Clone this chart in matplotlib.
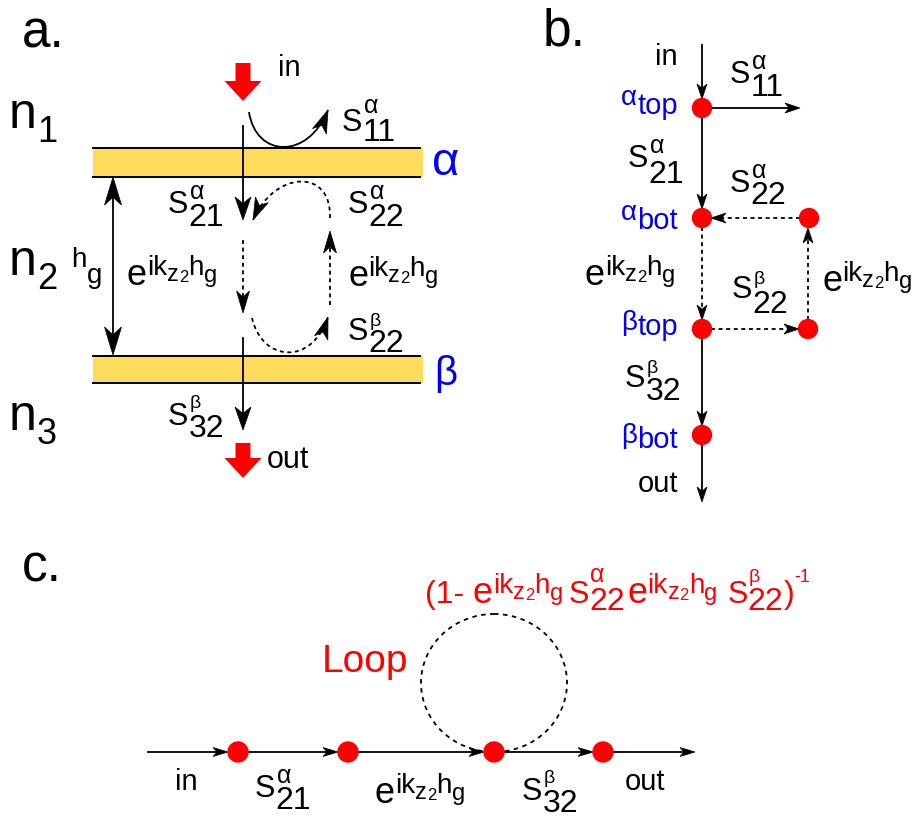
import matplotlib
matplotlib.use("Agg")
import matplotlib.pyplot as plt
import numpy as np
from matplotlib.patches import Polygon, Circle, Rectangle, Ellipse, PathPatch
from matplotlib.path import Path

plt.rcParams['font.family'] = ['Liberation Sans', 'DejaVu Sans']

# ---------------- data ----------------
panel_letters = ['a.', 'b.', 'c.']
panel_letter_xy = [(22, 47), (543, 45), (22, 582)]

media = ['1', '2', '3']
media_y = [128, 275, 430]

# panel b nodes (x, y) and their blue names
b_nodes = [(702, 108), (702, 218), (809, 218), (702, 329), (808, 329), (702, 435)]
b_names = [('α', 'top'), ('α', 'bot'), ('β', 'top'), ('β', 'bot')]
b_name_y = [105, 220, 330, 443]

# panel c chain of nodes
c_nodes_x = [238, 348, 494, 603]
c_line_y = 752

# ---------------- figure ----------------
fig = plt.figure(figsize=(9.17, 8.19), dpi=100)
ax = fig.add_axes([0, 0, 1, 1])
ax.set_xlim(0, 917)
ax.set_ylim(819, 0)
ax.axis('off')


def chain(parts, x, y, color='black'):
    # parts: (text, size, dy, attach index, dx in points)
    arts = []
    for i, p in enumerate(parts):
        s, size, dy = p[0], p[1], p[2]
        att = p[3] if len(p) > 3 and p[3] is not None else i - 1
        dx = p[4] if len(p) > 4 else 0
        if i == 0:
            t = ax.text(x, y + dy, s, fontsize=size, color=color, ha='left', va='baseline')
        else:
            t = ax.annotate(s, xy=(1, y + dy), xycoords=(arts[att], 'data'),
                            xytext=(dx, 0), textcoords='offset points',
                            fontsize=size, color=color, ha='left', va='baseline')
        arts.append(t)
    return arts


def slabel(x, y, sup, sub, color='black', supdy=-14, subdy=13, supsize=None):
    if supsize is None:
        supsize = 18 if sup == 'α' else 14
    chain([('S', 22, 0), (sup, supsize, supdy, 0, 1), (sub, 23, subdy, 0, 0)], x, y, color)


def exp_parts():
    return [('e', 26, 0), ('ik', 20, -10), ('z', 17, -4), ('2', 12, -3), ('h', 20, -10), ('g', 17, -3)]


def elabel(x, y, color='black'):
    chain(exp_parts(), x, y, color)


def head(tip, d, L, W, color='black'):
    d = np.array(d, float)
    d = d / np.linalg.norm(d)
    n = np.array([-d[1], d[0]])
    tip = np.array(tip, float)
    base = tip - L * d
    pts = [tip, base + W / 2 * n, tip - 0.72 * L * d, base - W / 2 * n]
    ax.add_patch(Polygon(pts, closed=True, facecolor=color, edgecolor=color, lw=0.5, zorder=5))


def arrow(p0, p1, L, W, ls='-', lw=1.3, both=False):
    p0 = np.array(p0, float)
    p1 = np.array(p1, float)
    d = p1 - p0
    u = d / np.linalg.norm(d)
    a = p0 + (0.5 * L * u if both else 0)
    b = p1 - 0.5 * L * u
    ax.plot([a[0], b[0]], [a[1], b[1]], color='black', lw=lw, ls=ls, zorder=4)
    head(p1, d, L, W)
    if both:
        head(p0, -d, L, W)


def curve(pts, L, W, ls='-', lw=1.3):
    path = Path(pts, [Path.MOVETO, Path.CURVE4, Path.CURVE4, Path.CURVE4])
    ax.add_patch(PathPatch(path, fill=False, ls=ls, lw=lw, edgecolor='black', zorder=4))
    head(pts[3], np.array(pts[3]) - np.array(pts[2]), L, W)


def block_arrow(x, y0, y1, sw=15, hw=37, hl=20):
    pts = [(x - sw / 2, y0), (x + sw / 2, y0), (x + sw / 2, y1 - hl), (x + hw / 2, y1 - hl),
           (x, y1), (x - hw / 2, y1 - hl), (x - sw / 2, y1 - hl)]
    ax.add_patch(Polygon(pts, closed=True, color='#FF0000', lw=0, zorder=5))


dots = (0, (2.2, 2))

# ---------------- panel letters ----------------
for s, (x, y) in zip(panel_letters, panel_letter_xy):
    ax.text(x, y, s, fontsize=37, ha='left', va='baseline')

# ---------------- panel a ----------------
for y0, y1 in [(148, 177), (356, 383)]:
    ax.add_patch(Rectangle((93, y0), 330, y1 - y0, facecolor='#FFDB5C', edgecolor='none', zorder=1))
    ax.plot([93, 420], [y0, y0], color='black', lw=1.4, zorder=2)
    ax.plot([93, 420], [y1, y1], color='black', lw=1.4, zorder=2)
ax.text(432, 175, 'α', fontsize=34, color='#0000FF', ha='left', va='baseline')
ax.text(434, 385, 'β', fontsize=29, color='#0000FF', ha='left', va='baseline')

for m, y in zip(media, media_y):
    chain([('n', 36, 0), (m, 26, 14, 0, 0)], 9, y)

# h_g gap
arrow((113, 177), (113, 355), 28, 17, both=True)
chain([('h', 20, 0), ('g', 20, 16, 0, 0)], 71, 267)

block_arrow(243, 63, 101)
ax.text(278, 76, 'in', fontsize=21, ha='left', va='baseline')
block_arrow(243, 443, 478)
ax.text(267, 468, 'out', fontsize=22, ha='left', va='baseline')

arrow((243, 126), (243, 220), 23, 16)
arrow((243, 338), (243, 430), 23, 16)
arrow((243, 240), (243, 313), 22, 13, ls=dots)
arrow((330, 305), (330, 231), 22, 13, ls=dots)
curve([(249, 112), (256, 158), (308, 160), (328, 110)], 23, 15)
curve([(330, 218), (332, 168), (275, 170), (253, 220)], 22, 14, ls=dots)
curve([(252, 318), (262, 362), (312, 366), (328, 317)], 22, 14, ls=dots)

slabel(342, 131, 'α', '11', supdy=-18, subdy=10)
slabel(168, 213, 'α', '21')
slabel(348, 213, 'α', '22')
slabel(348, 340, 'β', '22', supdy=-14, subdy=12)
slabel(168, 425, 'β', '32', supdy=-17, subdy=12)
elabel(127, 285)
elabel(348, 286)

# ---------------- panel b ----------------
bx = b_nodes[0][0]
ax.text(678, 65, 'in', fontsize=21, ha='right', va='baseline')
ax.text(678, 492, 'out', fontsize=21, ha='right', va='baseline')
arrow((bx, 45), (bx, 99), 15, 10)
arrow((711, 108), (800, 108), 15, 10)
arrow((bx, 117), (bx, 209), 15, 10)
arrow((800, 218), (711, 218), 15, 10, ls=dots)
arrow((bx, 227), (bx, 320), 15, 10, ls=dots)
arrow((711, 329), (799, 329), 15, 10, ls=dots)
arrow((808, 320), (808, 228), 15, 10, ls=dots)
arrow((bx, 338), (bx, 426), 15, 10)
arrow((bx, 444), (bx, 502), 15, 10)
for (x, y) in b_nodes:
    ax.add_patch(Circle((x, y), 9.5, color='#FF0000', zorder=6))
for (g, s), y in zip(b_names, b_name_y):
    chain([(g, 20, 0), (s, 21, 9 if g == 'α' else 5, None, 0)], 621, y, color='#0000FF')

slabel(730, 83, 'α', '11')
slabel(628, 167, 'α', '21', subdy=16)
slabel(730, 192, 'α', '22', subdy=12)
slabel(732, 298, 'β', '22', subdy=15)
slabel(625, 387, 'β', '32')
elabel(585, 285)
elabel(822, 291)

# ---------------- panel c ----------------
xs = [148] + c_nodes_x + [695]
for i in range(len(xs) - 1):
    x0 = xs[i] + (10 if i > 0 else 0)
    x1 = xs[i + 1] - (10 if i + 1 < len(xs) - 1 else 0)
    arrow((x0, c_line_y), (x1, c_line_y), 15, 9)
ax.add_patch(Ellipse((494, 683), 146, 138, fill=False, ls=(0, (2.5, 2.5)), lw=1.3,
                     edgecolor='black', zorder=3))
for x in c_nodes_x:
    ax.add_patch(Circle((x, c_line_y), 10, color='#FF0000', zorder=6))

ax.text(175, 790, 'in', fontsize=21, ha='left', va='baseline')
slabel(255, 797, 'α', '21', subdy=12)
elabel(375, 803)
slabel(522, 800, 'β', '32', supdy=-17, subdy=12)
ax.text(625, 790, 'out', fontsize=21, ha='left', va='baseline')

ax.text(322, 672, 'Loop', fontsize=28, color='#FF0000', ha='left', va='baseline')

# red loop formula: index 7 and 16 are the two S, 9 and 18 their subscripts
ep = exp_parts()
formula = ([('(1- ', 23, 0)] + ep +
           [('S', 22, 0, None, 4), ('α', 18, -21, 7, 1), ('22', 23, 7, 7, 0)] +
           [(s, z, dy, (9 if k == 0 else None), (2 if k == 0 else 0)) for k, (s, z, dy) in enumerate(ep)] +
           [('S', 22, 0, None, 7), ('β', 14, -21, 16, 1), ('22', 23, 7, 16, 0),
            (')', 23, 0, 18, 0), ('-1', 13, -21, None, 0)])
chain(formula, 425, 603, color='#FF0000')

fig.savefig('out.png', dpi=100)
